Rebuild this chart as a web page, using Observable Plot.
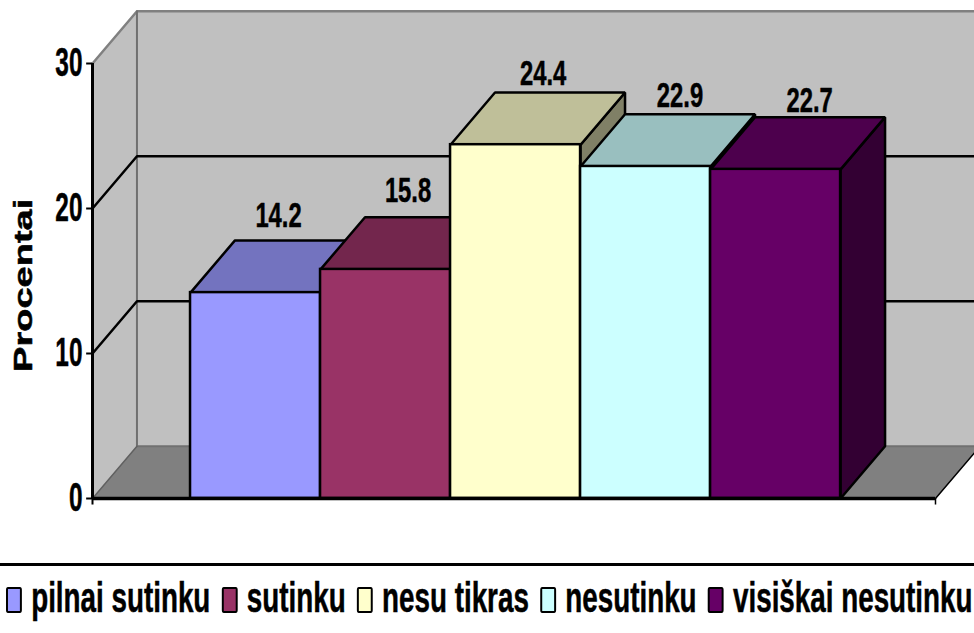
<!DOCTYPE html>
<html>
<head>
<meta charset="utf-8">
<script src="https://cdn.jsdelivr.net/npm/d3@7"></script>
<script src="https://cdn.jsdelivr.net/npm/@observablehq/plot@0.6"></script>
<style>
  html,body{margin:0;padding:0;background:#fff;overflow:hidden}
  #chart svg{display:block}
  #legend{border-top:3px solid #000;height:67px;box-sizing:border-box;width:974px;overflow:hidden;position:relative}
  #row{display:flex;align-items:center;position:absolute;left:6px;top:9px;transform-origin:left center;
       font:bold 42px "Liberation Sans",sans-serif;white-space:nowrap;line-height:46px;color:#000;-webkit-text-stroke:.5px #000}
  .sw{width:18px;height:22px;margin-top:4px;border:2px solid #000;border-left-width:3px;border-right-width:3px;border-radius:3px;box-sizing:content-box;margin-right:14px;flex:none}
  .it{display:flex;align-items:center;margin-right:17px}
</style>
</head>
<body>
<div id="chart"></div>
<div id="legend"><div id="row"></div></div>
<script>
const categories = ["pilnai sutinku","sutinku","nesu tikras","nesutinku","visiškai nesutinku"];
const values = [14.2,15.8,24.4,22.9,22.7];
const colors = ["#9999ff","#993366","#ffffcc","#ccffff","#660066"];
const yTicks = [0,10,20,30];
const yTitle = "Procentai";

const depthX = 0.342, depthY = 3.6;   // oblique depth of the 3-D box in scale units
const xMin = -0.754, xMax = 6.03, xEnd = 5.73;
// value-label placement, relative to each bar centre and back-top edge
const labelDx = [.177,.173,.212,.265,.262];
const labelLift = [25,26,19,18,16];
const shade = (c,k)=>{const r=d3.rgb(c);return d3.rgb(r.r*k,r.g*k,r.b*k).formatHex();};
const poly = (pts,o)=>Plot.line(pts.map(([x,y])=>({x,y})),{x:"x",y:"y",curve:"linear-closed",strokeLinejoin:"miter",...o});

const marks = [];
// walls and floor
marks.push(poly([[xMin,0],[xMin+depthX,depthY],[xMin+depthX,30+depthY],[xMin,30]],{fill:"#c0c0c0",stroke:"none"}));
marks.push(poly([[xMin+depthX,depthY],[xEnd+depthX,depthY],[xEnd+depthX,30+depthY],[xMin+depthX,30+depthY]],{fill:"#c0c0c0",stroke:"none"}));
marks.push(poly([[xMin,0],[xMin+depthX,depthY],[xEnd+depthX,depthY],[xEnd,0]],{fill:"#808080",stroke:"none"}));
marks.push(Plot.line([{x:xMin,y:30},{x:xMin+depthX,y:30+depthY},{x:xEnd+depthX,y:30+depthY}],{x:"x",y:"y",stroke:"#808080",strokeWidth:2.5}));
marks.push(Plot.line([{x:xMin+depthX,y:30+depthY},{x:xMin+depthX,y:depthY},{x:xEnd+depthX,y:depthY}],{x:"x",y:"y",stroke:"#707070",strokeWidth:2}));
marks.push(Plot.line([{x:xMin,y:0},{x:xMin+depthX,y:depthY}],{x:"x",y:"y",stroke:"#606060",strokeWidth:1.5}));
marks.push(Plot.line([{x:xEnd,y:0},{x:xEnd+depthX,y:depthY}],{x:"x",y:"y",stroke:"#000",strokeWidth:1.5}));
// grid lines
for (const t of [10,20]) {
  marks.push(Plot.line([{x:xMin,y:t},{x:xMin+depthX,y:t+depthY},{x:xEnd+depthX,y:t+depthY}],{x:"x",y:"y",stroke:"#000",strokeWidth:2.5}));
}
// bars, painted left to right
values.forEach((v,i)=>{
  const c=colors[i], e={stroke:"#000",strokeWidth:2.5};
  marks.push(poly([[i+1,0],[i+1+depthX,depthY],[i+1+depthX,v+depthY],[i+1,v]],{fill:shade(c,.5),...e}));
  marks.push(poly([[i,v],[i+1,v],[i+1+depthX,v+depthY],[i+depthX,v+depthY]],{fill:shade(c,.75),...e}));
  marks.push(Plot.rect([{i,v}],{x1:"i",x2:d=>d.i+1,y1:0,y2:"v",fill:c,inset:0,...e}));
});
// axes
marks.push(Plot.ruleX([xMin],{y1:0,y2:30,stroke:"#000",strokeWidth:3}));
marks.push(Plot.ruleY([0],{x1:xMin,x2:xEnd,stroke:"#000",strokeWidth:3.5}));
marks.push(Plot.ruleY(yTicks,{x1:xMin-0.045,x2:xMin,y:d=>d,stroke:"#000",strokeWidth:2}));
marks.push(Plot.ruleX([xMin],{y1:0,y2:-0.45,stroke:"#000",strokeWidth:2}));
marks.push(Plot.ruleX([xEnd],{y1:0,y2:-0.45,stroke:"#000",strokeWidth:1.5}));
const heavy={fontWeight:"bold",fill:"#000",stroke:"#000",strokeWidth:.5};
marks.push(Plot.text(yTicks,{x:xMin,y:d=>d,text:d=>String(d),textAnchor:"end",dx:-10,fontSize:40,...heavy}));
marks.push(Plot.text(values,{x:(d,i)=>i+.5+labelDx[i],y:(d,i)=>d+depthY+labelLift[i]/14.5,text:d=>d.toFixed(1),fontSize:35,...heavy}));
marks.push(Plot.text([yTitle],{frameAnchor:"left",dx:-69,y:()=>14.7,rotate:-90,textAnchor:"middle",text:d=>d,fontSize:25,...heavy}));

const chart = Plot.plot({
  width:974,height:563,
  marginLeft:92,marginRight:0,marginTop:0,marginBottom:65,
  x:{type:"linear",domain:[xMin,xMax],range:[92,974],axis:null},
  y:{type:"linear",domain:[0,30],range:[498,63],axis:null},
  style:{fontFamily:'"Liberation Sans",sans-serif',background:"#fff",overflow:"hidden"},
  marks
});
d3.select(chart).selectAll("text").each(function(){
  const s=d3.select(this), t=s.attr("transform")||"", txt=s.text();
  const sx=txt===yTitle?1.52:txt.includes(".")?0.68:0.61;
  s.attr("transform",t+` scale(${sx},1)`);
});
document.getElementById("chart").append(chart);

const row=d3.select("#row").style("transform","scaleX(0.662)");
categories.forEach((n,i)=>{
  const it=row.append("div").attr("class","it");
  it.append("div").attr("class","sw").style("background",colors[i]);
  it.append("span").text(n);
});
</script>
</body>
</html>
